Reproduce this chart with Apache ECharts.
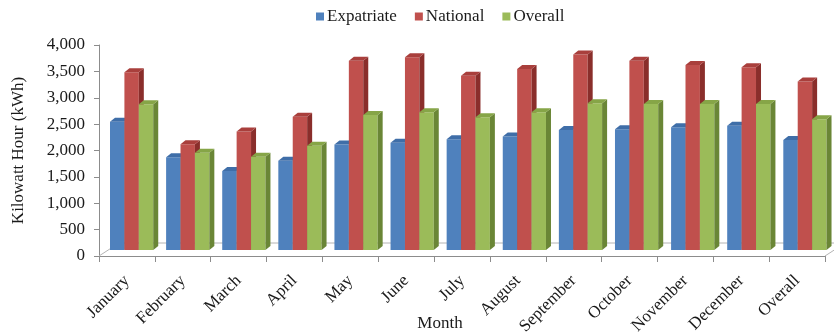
<!DOCTYPE html>
<html>
<head>
<meta charset="utf-8">
<script src="https://cdn.jsdelivr.net/npm/echarts@6/dist/echarts.min.js"></script>
<style>
  html, body { margin: 0; padding: 0; background: #fff; }
  #chart { width: 834px; height: 333px; }
</style>
</head>
<body>
<div id="chart"></div>
<script>
// Monthly household electricity use (kWh) by group
const months = ['January', 'February', 'March', 'April', 'May', 'June', 'July',
  'August', 'September', 'October', 'November', 'December', 'Overall'];
const expatriate = [2430, 1760, 1500, 1690, 2000, 2035, 2100, 2150, 2275, 2290, 2325, 2355, 2085];
const national   = [3370, 2005, 2245, 2525, 3590, 3655, 3305, 3430, 3705, 3590, 3505, 3465, 3195];
const overall    = [2765, 1845, 1770, 1975, 2560, 2610, 2515, 2610, 2780, 2770, 2770, 2770, 2480];
const seriesNames = ['Expatriate', 'National', 'Overall'];
const yMin = 0, yMax = 4000, yStep = 500;

const FONT = 'Liberation Serif';
const TEXT = '#1a1a1a';

// face shades for the pseudo-3D columns: front, top cap, right side
const SHADES = [
  { front: '#4F81BD', top: '#3F6EA8', side: '#34598A' },
  { front: '#C0504D', top: '#A93F3C', side: '#8A2E2B' },
  { front: '#9BBB59', top: '#86A547', side: '#6A8636' }
];

// projection constants for the oblique "depth" look
const LIFT = 6;          // bars stand half-way back on the floor
const SIDE_DX = 5, SIDE_DY = 4;   // depth of a single column
const FLOOR_DX = 20, FLOOR_DY = 13; // full floor depth

function columnRenderer(k) {
  return function (params, api) {
    const i = api.value(0);
    const v = api.value(1);
    const band = api.size([1, 0])[0];
    const base = api.coord([i, 0]);
    const tip = api.coord([i, v]);
    const w = band * 0.258;
    const x0 = base[0] - band / 2 + band * (0.197 + 0.0047 * i) + k * w;
    const x1 = x0 + w;
    const yb = base[1] - LIFT;
    const yt = tip[1] - LIFT;
    const c = SHADES[k];
    return {
      type: 'group',
      children: [
        {
          type: 'rect',
          shape: { x: x0, y: yt, width: w, height: yb - yt },
          style: { fill: c.front }
        },
        {
          type: 'polygon',
          shape: { points: [[x1, yt], [x1 + SIDE_DX, yt - SIDE_DY], [x1 + SIDE_DX, yb - SIDE_DY], [x1, yb]] },
          style: { fill: c.side }
        },
        {
          type: 'polygon',
          shape: { points: [[x0, yt], [x1, yt], [x1 + SIDE_DX, yt - SIDE_DY], [x0 + SIDE_DX, yt - SIDE_DY]] },
          style: { fill: c.top }
        }
      ]
    };
  };
}

function floorRenderer(params, api) {
  const band = api.size([1, 0])[0];
  const first = api.coord([0, 0]);
  const last = api.coord([months.length - 1, 0]);
  const xl = first[0] - band / 2;
  const xr = last[0] + band / 2;
  const y = first[1];
  return {
    type: 'polyline',
    shape: { points: [[xl, y], [xl + FLOOR_DX, y - FLOOR_DY], [xr + FLOOR_DX, y - FLOOR_DY], [xr, y]] },
    style: { stroke: '#B4B4B4', lineWidth: 1, fill: null }
  };
}

function seriesData(values) {
  return values.map((v, i) => [i, v]);
}

const chart = echarts.init(document.getElementById('chart'), null, { renderer: 'canvas' });

chart.setOption({
  backgroundColor: '#ffffff',
  animation: false,
  legend: {
    data: seriesNames,
    top: 3,
    left: 311,
    icon: 'rect',
    itemWidth: 8,
    itemHeight: 8,
    itemGap: 18,
    textStyle: { fontFamily: FONT, fontSize: 17, color: TEXT, padding: [0, 0, 0, -2] }
  },
  grid: { left: 99, right: 9, top: 45, bottom: 77, containLabel: false, outerBoundsMode: 'none' },
  xAxis: {
    type: 'category',
    data: months,
    boundaryGap: true,
    name: 'Month',
    nameLocation: 'middle',
    nameGap: 59,
    nameMoveOverlap: false,
    nameTextStyle: { fontFamily: FONT, fontSize: 17, color: TEXT, padding: [0, 44, 0, 0] },
    axisLine: { show: true, lineStyle: { color: '#8C8C8C', width: 1 } },
    axisTick: { show: true, alignWithLabel: false, length: 6, lineStyle: { color: '#8C8C8C' } },
    axisLabel: {
      rotate: 45,
      margin: 22,
      interval: 0,
      fontFamily: FONT,
      fontSize: 17,
      color: TEXT
    },
    splitLine: { show: false }
  },
  yAxis: {
    type: 'value',
    min: yMin,
    max: yMax,
    interval: yStep,
    name: 'Kilowatt Hour (kWh)',
    nameLocation: 'middle',
    nameGap: 72,
    nameRotate: 90,
    nameMoveOverlap: false,
    nameTextStyle: { fontFamily: FONT, fontSize: 17, color: TEXT },
    axisLine: { show: true, lineStyle: { color: '#8C8C8C', width: 1 } },
    axisTick: { show: true, length: 5, lineStyle: { color: '#8C8C8C' } },
    axisLabel: {
      margin: 14,
      fontFamily: FONT,
      fontSize: 17,
      color: TEXT,
      formatter: v => v.toLocaleString('en-US')
    },
    splitLine: { show: false }
  },
  series: [
    {
      type: 'custom',
      name: 'floor',
      renderItem: floorRenderer,
      data: [[0, 0]],
      clip: false,
      silent: true,
      z: 1
    },
    {
      type: 'custom',
      name: seriesNames[0],
      renderItem: columnRenderer(0),
      data: seriesData(expatriate),
      itemStyle: { color: SHADES[0].front },
      encode: { x: 0, y: 1 },
      clip: false,
      z: 2
    },
    {
      type: 'custom',
      name: seriesNames[1],
      renderItem: columnRenderer(1),
      data: seriesData(national),
      itemStyle: { color: SHADES[1].front },
      encode: { x: 0, y: 1 },
      clip: false,
      z: 3
    },
    {
      type: 'custom',
      name: seriesNames[2],
      renderItem: columnRenderer(2),
      data: seriesData(overall),
      itemStyle: { color: SHADES[2].front },
      encode: { x: 0, y: 1 },
      clip: false,
      z: 4
    }
  ]
});
</script>
</body>
</html>
